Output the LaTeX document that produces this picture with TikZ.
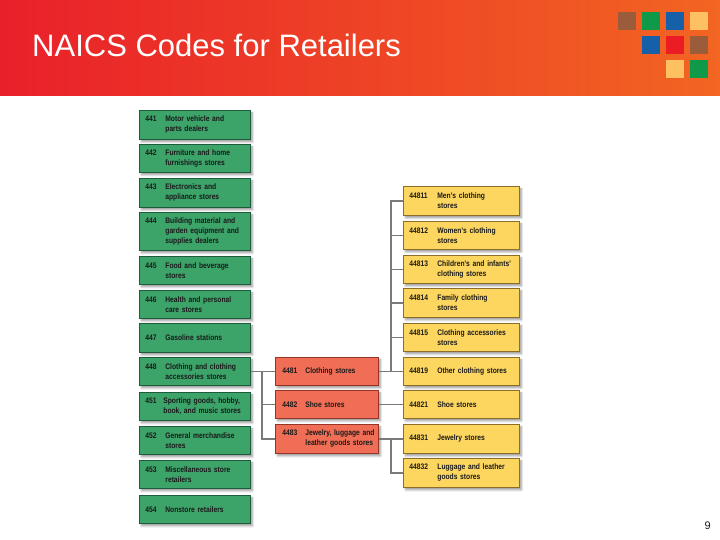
\documentclass[tikz,border=0pt]{standalone}
\usepackage{fontspec}
\setmainfont{Liberation Sans}
\newfontfamily\condf[FakeStretch=0.84]{Liberation Sans}
\usetikzlibrary{shadows.blur}
\definecolor{hdrL}{RGB}{233,32,42}
\definecolor{hdrR}{RGB}{242,101,34}
\definecolor{sqbrown}{RGB}{155,92,60}
\definecolor{sqgreen}{RGB}{14,154,72}
\definecolor{sqblue}{RGB}{21,96,168}
\definecolor{sqyellow}{RGB}{253,193,98}
\definecolor{sqred}{RGB}{236,28,36}
\definecolor{gfill}{RGB}{60,163,105}
\definecolor{gline}{RGB}{30,90,60}
\definecolor{rfill}{RGB}{240,110,85}
\definecolor{rline}{RGB}{150,52,40}
\definecolor{yfill}{RGB}{253,214,96}
\definecolor{yline}{RGB}{140,110,40}
\definecolor{conncol}{RGB}{122,122,122}
\definecolor{txt}{RGB}{26,26,26}
\hfuzz=20pt
\newcommand\ent[4]{\noindent\makebox[#1][l]{#2}\parbox[t]{#3}{\raggedright #4}}
\tikzset{
  cbox/.style={draw, line width=0.8pt, anchor=north west, inner xsep=6pt, inner ysep=0pt,
    align=left, text=txt, font=\condf\bfseries\fontsize{8}{10}\selectfont,
    blur shadow={shadow xshift=2pt, shadow yshift=-2.5pt, shadow blur steps=6, shadow opacity=40}},
  gbox/.style={cbox, fill=gfill, draw=gline, text width=99pt},
  rbox/.style={cbox, fill=rfill, draw=rline, inner xsep=7pt, text width=89pt},
  ybox/.style={cbox, fill=yfill, draw=yline, text width=104pt},
  conn/.style={draw=conncol, line width=1.3pt}
}
\begin{document}
\begin{tikzpicture}[x=1pt,y=-1pt]
\useasboundingbox (0,0) rectangle (720,540);
% header
\fill[left color=hdrL, right color=hdrR] (0,0) rectangle (720,96);
\node[anchor=base west, text=white, font=\fontsize{31}{31}\selectfont, inner sep=0] (title) at (32,57) {NAICS Codes for Retailers};
\fill[sqbrown]  (618,12) rectangle (636,30);
\fill[sqgreen]  (642,12) rectangle (660,30);
\fill[sqblue]   (666,12) rectangle (684,30);
\fill[sqyellow] (690,12) rectangle (708,30);
\fill[sqblue]   (642,36) rectangle (660,54);
\fill[sqred]    (666,36) rectangle (684,54);
\fill[sqbrown]  (690,36) rectangle (708,54);
\fill[sqyellow] (666,60) rectangle (684,78);
\fill[sqgreen]  (690,60) rectangle (708,78);
% green column
\node[gbox, minimum height=29pt] (g441) at (139,110) {\ent{20pt}{441}{79pt}{Motor vehicle and\\parts dealers}};
\node[gbox, minimum height=28pt] (g442) at (139,144) {\ent{20pt}{442}{79pt}{Furniture and home\\furnishings stores}};
\node[gbox, minimum height=29pt] (g443) at (139,178) {\ent{20pt}{443}{79pt}{Electronics and\\appliance stores}};
\node[gbox, minimum height=38pt] (g444) at (139,212) {\ent{20pt}{444}{79pt}{Building material and\\garden equipment and\\supplies dealers}};
\node[gbox, minimum height=28pt] (g445) at (139,256) {\ent{20pt}{445}{79pt}{Food and beverage\\stores}};
\node[gbox, minimum height=28pt] (g446) at (139,290) {\ent{20pt}{446}{79pt}{Health and personal\\care stores}};
\node[gbox, minimum height=29pt] (g447) at (139,323) {\ent{20pt}{447}{79pt}{Gasoline stations}};
\node[gbox, minimum height=28pt] (g448) at (139,357) {\ent{20pt}{448}{79pt}{Clothing and clothing\\accessories stores}};
\node[gbox, minimum height=28pt] (g451) at (139,392) {\ent{18pt}{451}{81pt}{Sporting goods, hobby,\\book, and music stores}};
\node[gbox, minimum height=28pt] (g452) at (139,426) {\ent{20pt}{452}{79pt}{General merchandise\\stores}};
\node[gbox, minimum height=28pt] (g453) at (139,460) {\ent{20pt}{453}{79pt}{Miscellaneous store\\retailers}};
\node[gbox, minimum height=28pt] (g454) at (139,495) {\ent{20pt}{454}{79pt}{Nonstore retailers}};
% red column
\node[rbox, minimum height=28pt] (r4481) at (275,357) {\ent{23pt}{4481}{74pt}{Clothing stores}};
\node[rbox, minimum height=28pt] (r4482) at (275,390) {\ent{23pt}{4482}{74pt}{Shoe stores}};
\node[rbox, minimum height=29pt] (r4483) at (275,424) {\ent{23pt}{4483}{74pt}{Jewelry, luggage and\\leather goods stores}};
% yellow column
\node[ybox, minimum height=29pt] (y44811) at (403,186) {\ent{28pt}{44811}{76pt}{Men's clothing\\stores}};
\node[ybox, minimum height=28pt] (y44812) at (403,221) {\ent{28pt}{44812}{76pt}{Women's clothing\\stores}};
\node[ybox, minimum height=28pt] (y44813) at (403,255) {\ent{28pt}{44813}{76pt}{Children's and infants'\\clothing stores}};
\node[ybox, minimum height=29pt] (y44814) at (403,288) {\ent{28pt}{44814}{76pt}{Family clothing\\stores}};
\node[ybox, minimum height=28pt] (y44815) at (403,323) {\ent{28pt}{44815}{76pt}{Clothing accessories\\stores}};
\node[ybox, minimum height=28pt] (y44819) at (403,357) {\ent{28pt}{44819}{76pt}{Other clothing stores}};
\node[ybox, minimum height=28pt] (y44821) at (403,390) {\ent{28pt}{44821}{76pt}{Shoe stores}};
\node[ybox, minimum height=29pt] (y44831) at (403,424) {\ent{28pt}{44831}{76pt}{Jewelry stores}};
\node[ybox, minimum height=29pt] (y44832) at (403,458) {\ent{28pt}{44832}{76pt}{Luggage and leather\\goods stores}};
% connectors left
\coordinate (t1) at (262,371);
\draw[conn] (g448.east) -- (r4481.west);
\draw[conn] (t1) |- (r4482.west);
\draw[conn] (t1) |- (r4483.west);
% connectors right
\coordinate (t2) at (391,371);
\draw[conn] (r4481.east) -- (y44819.west);
\foreach \n in {44811,44812,44813,44814,44815}{\draw[conn] (t2) |- (y\n.west);}
\draw[conn] (r4482.east) -- (y44821.west);
\coordinate (t3) at (391,438.5);
\draw[conn] (r4483.east) -- (y44831.west);
\draw[conn] (t3) |- (y44832.west);
% page number
\node[anchor=base east, text=txt, font=\fontsize{11}{11}\selectfont, inner sep=0] (pg) at (711,529) {9};
\end{tikzpicture}
\end{document}
